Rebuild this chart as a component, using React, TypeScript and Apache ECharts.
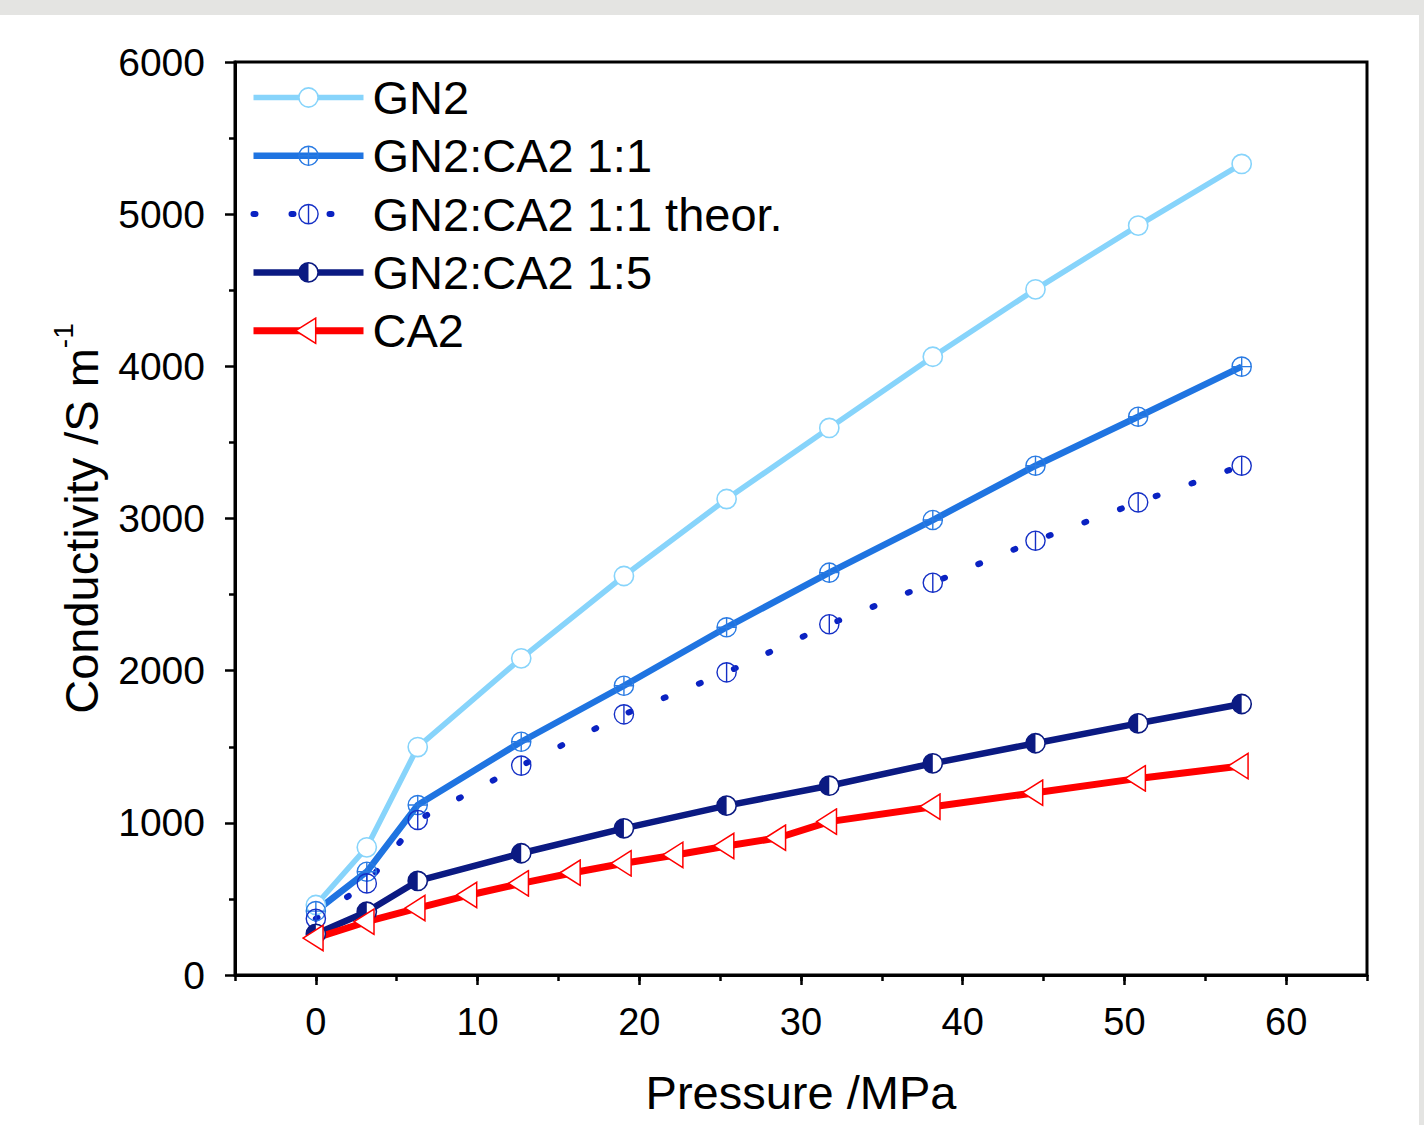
import React, { useEffect, useRef } from 'react';
import * as echarts from 'echarts';

// ---- data ----
const pressure = [0, 3.15, 6.3, 12.7, 19.05, 25.4, 31.75, 38.15, 44.5, 50.85, 57.25];
const gn2 = [460, 839, 1498, 2081, 2622, 3128, 3595, 4063, 4506, 4925, 5330];
const gn2ca2_11 = [420, 679, 1117, 1533, 1901, 2285, 2644, 2990, 3347, 3669, 3998];
const gn2ca2_11_theor = [370, 602, 1019, 1376, 1713, 1989, 2305, 2578, 2854, 3106, 3347];
const gn2ca2_15 = [270, 416, 618, 800, 964, 1113, 1244, 1391, 1523, 1654, 1781];
const ca2Pressure = [0, 3.15, 6.3, 9.5, 12.7, 15.9, 19.05, 22.25, 25.4, 28.6, 31.75, 38.15, 44.5, 50.85, 57.2];
const ca2 = [243, 350, 440, 526, 602, 672, 734, 789, 848, 902, 1008, 1106, 1198, 1292, 1373];
const xTickLabels = [0, 10, 20, 30, 40, 50, 60];
const seriesNames = ['GN2', 'GN2:CA2 1:1', 'GN2:CA2 1:1 theor.', 'GN2:CA2 1:5', 'CA2'];

const FONT = '"Liberation Sans", Arial, sans-serif';

const svgSymbol = (inner: string) =>
  'image://data:image/svg+xml;charset=utf-8,' +
  encodeURIComponent(
    `<svg xmlns="http://www.w3.org/2000/svg" width="28" height="28" viewBox="0 0 28 28">${inner}</svg>`
  );

const C_GN2 = '#87d4fb';
const C_11 = '#1f74e1';
const C_11M = '#2a7be3';
const C_TH = '#0a22c2';
const C_THM = '#1530c6';
const C_15 = '#0b1a82';
const C_CA2 = '#ff0000';

const symGN2 = svgSymbol(`<circle cx="14" cy="14" r="9.6" fill="#fff" stroke="${C_GN2}" stroke-width="1.6"/>`);
const sym11 = svgSymbol(
  `<circle cx="14" cy="14" r="9.6" fill="none" stroke="${C_11M}" stroke-width="1.4"/><path d="M14 4.4V23.6M4.4 14H23.6" stroke="${C_11M}" stroke-width="1.4" fill="none"/>`
);
const symTh = svgSymbol(
  `<circle cx="14" cy="14" r="9.6" fill="none" stroke="${C_THM}" stroke-width="1.4"/><path d="M14 4.4V23.6" stroke="${C_THM}" stroke-width="1.4" fill="none"/>`
);
const sym15 = svgSymbol(
  `<circle cx="14" cy="14" r="9.6" fill="#fff" stroke="${C_15}" stroke-width="1.6"/><path d="M14 4.4A9.6 9.6 0 0 0 14 23.6Z" fill="${C_15}"/>`
);
const symCA2 = svgSymbol(
  `<polygon points="1.2,14 21.2,1.3 21.2,26.7" fill="#fff" stroke="${C_CA2}" stroke-width="1.5" stroke-linejoin="miter"/>`
);

const zip = (xs: number[], ys: number[]) => xs.map((x, i) => [x, ys[i]]);

export default function App() {
  const ref = useRef<HTMLDivElement>(null);

  useEffect(() => {
    if (!ref.current) return;
    const chart = echarts.init(ref.current, undefined, { renderer: 'svg' });

    const lineSeries = (
      name: string,
      data: number[][],
      color: string,
      width: number,
      symbol: string,
      extra: any = {}
    ) => ({
      name,
      type: 'line',
      data,
      symbol,
      symbolSize: 28,
      showSymbol: true,
      showAllSymbol: true,
      lineStyle: { color, width, ...(extra.lineStyle || {}) },
      itemStyle: { color },
      emphasis: { disabled: true },
      z: extra.z ?? 2,
    });

    const option: any = {
      animation: false,
      backgroundColor: 'transparent',
      grid: {
        left: 235,
        top: 62,
        width: 1132,
        height: 913,
        show: true,
        borderColor: '#000',
        borderWidth: 3,
        backgroundColor: 'transparent',
        containLabel: false,
      },
      legend: {
        orient: 'vertical',
        left: 250,
        top: 74,
        padding: 0,
        itemWidth: 110,
        itemHeight: 35,
        itemGap: 11.3,
        data: seriesNames,
        selectedMode: false,
        lineStyle: { width: 'inherit' },
        textStyle: {
          fontSize: 47,
          lineHeight: 46,
          color: '#000',
          fontFamily: FONT,
          padding: [0, 0, 0, 4],
        },
      },
      xAxis: [
        {
          type: 'value',
          min: -5,
          max: 65,
          position: 'bottom',
          name: 'Pressure /MPa',
          nameLocation: 'middle',
          nameGap: 94,
          nameTextStyle: { fontSize: 47, color: '#000', fontFamily: FONT },
          axisLine: { show: true, onZero: false, lineStyle: { color: '#000', width: 3 } },
          axisTick: {
            show: true,
            customValues: xTickLabels,
            length: 10,
            lineStyle: { color: '#000', width: 2.5 },
          },
          axisLabel: {
            customValues: xTickLabels,
            fontSize: 38,
            margin: 28,
            color: '#000',
            fontFamily: FONT,
          },
          splitLine: { show: false },
        },
        {
          type: 'value',
          min: -5,
          max: 65,
          interval: 5,
          position: 'bottom',
          axisLine: { show: false },
          axisTick: { show: true, length: 6, lineStyle: { color: '#000', width: 2.5 } },
          axisLabel: { show: false },
          splitLine: { show: false },
        },
      ],
      yAxis: {
        type: 'value',
        min: 0,
        max: 6000,
        interval: 1000,
        name: '{a|Conductivity /S m}{b|-1}',
        nameLocation: 'middle',
        nameGap: 122,
        nameTextStyle: {
          color: '#000',
          fontFamily: FONT,
          rich: {
            a: { fontSize: 47, lineHeight: 64, color: '#000', fontFamily: FONT },
            b: { fontSize: 28, lineHeight: 28, verticalAlign: 'top', color: '#000', fontFamily: FONT },
          },
        },
        axisLine: { show: true, onZero: false, lineStyle: { color: '#000', width: 3 } },
        axisTick: { show: true, length: 10, lineStyle: { color: '#000', width: 2.5 } },
        minorTick: { show: true, splitNumber: 2, length: 6, lineStyle: { color: '#000', width: 2.5 } },
        axisLabel: {
          fontSize: 39,
          margin: 30,
          color: '#000',
          fontFamily: FONT,
          formatter: (v: number) => String(v),
        },
        splitLine: { show: false },
        minorSplitLine: { show: false },
      },
      series: [
        lineSeries(seriesNames[0], zip(pressure, gn2), C_GN2, 5.5, symGN2),
        lineSeries(seriesNames[1], zip(pressure, gn2ca2_11), C_11, 6.5, sym11),
        lineSeries(seriesNames[2], zip(pressure, gn2ca2_11_theor), C_TH, 6, symTh, {
          lineStyle: { type: [2, 36], cap: 'round' },
        }),
        lineSeries(seriesNames[3], zip(pressure, gn2ca2_15), C_15, 6.5, sym15),
        lineSeries(seriesNames[4], zip(ca2Pressure, ca2), C_CA2, 7, symCA2),
      ],
    };

    chart.setOption(option);
    return () => chart.dispose();
  }, []);

  return (
    <div
      style={{
        position: 'fixed',
        left: 0,
        top: 0,
        width: 1424,
        height: 1125,
        background: '#e4e4e2',
        overflow: 'hidden',
      }}
    >
      <div style={{ position: 'absolute', left: 0, top: 15, width: 1419, height: 1110, background: '#fff' }} />
      <div ref={ref} style={{ position: 'absolute', left: 0, top: 0, width: 1424, height: 1125 }} />
    </div>
  );
}
